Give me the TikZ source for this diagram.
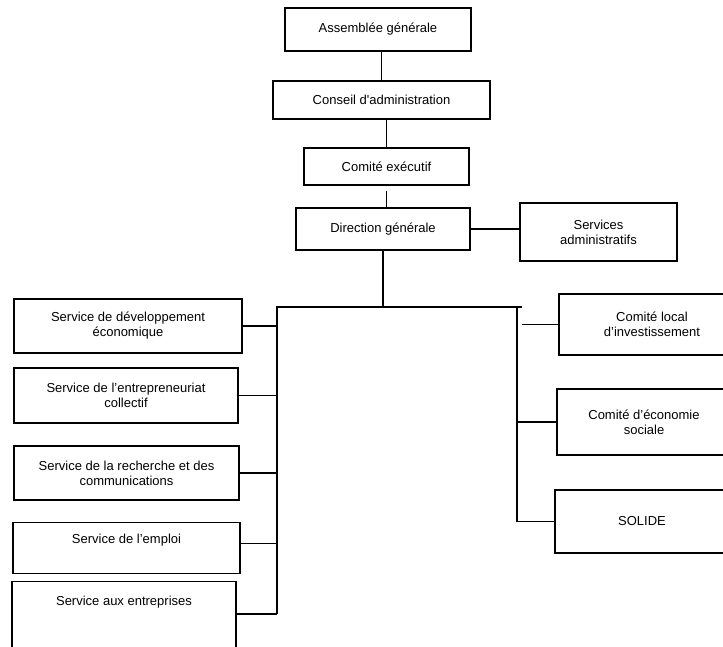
\documentclass[tikz,border=0pt]{standalone}
\usepackage{fontspec}
\setmainfont{Liberation Sans}
\begin{document}
\begin{tikzpicture}[x = 1pt, y = -1pt, line width = 1.4pt,
                      box/.style = {draw, rectangle, align = center, font = \fontsize{13}{15}\selectfont},
                      topbox/.style = {box, inner ysep = 0pt, anchor = north}]
    \useasboundingbox (0, 0) rectangle (723, 647);
    \clip (0, 0) rectangle (723, 647);

    \node [box, minimum width = 186pt, minimum height = 43pt] (ag) at (378, 29.5) {Assemblée générale};
    \node [box, minimum width = 217pt, minimum height = 38pt] (ca) at (381.5, 100) {Conseil d\textquotesingle administration};
    \node [box, minimum width = 165pt, minimum height = 37pt] (ce) at (386.5, 166.5) {Comité exécutif};
    \node [box, minimum width = 174pt, minimum height = 42pt] (dg) at (383, 229) {Direction générale};
    \node [box, minimum width = 157pt, minimum height = 58pt] (sa) at (598.5, 232) {Services\\administratifs};

    \node [box, minimum width = 228pt, minimum height = 54pt] (s1) at (128, 326) {Service de développement\\économique};
    \node [box, minimum width = 224pt, minimum height = 55pt] (s2) at (126, 395.5) {Service de l’entrepreneuriat\\collectif};
    \node [box, minimum width = 225pt, minimum height = 54pt] (s3) at (126.5, 473) {Service de la recherche et des\\communications};
    \node [topbox, minimum width = 227pt, text height = 21pt, text depth = 30pt] (s4) at (126.5, 522) {Service de l’emploi};
    \node [topbox, minimum width = 224pt, text height = 24pt, text depth = 80pt] (s5) at (124, 581) {Service aux entreprises};

    \node [box, minimum width = 186pt, minimum height = 61pt] (r1) at (652, 324.5) {Comité local\\d’investissement};
    \node [box, minimum width = 174pt, minimum height = 66pt] (r2) at (644, 422) {Comité d’économie\\sociale};
    \node [box, minimum width = 174pt, minimum height = 63pt] (r3) at (642, 521.5) {SOLIDE};

    \coordinate (lt) at (277, 307);
    \coordinate (lb) at (277, 614);
    \coordinate (rt) at (522, 307);
    \coordinate (rb) at (517, 522);

    \draw (ag.south -| ca.north) -- (ca.north);
    \draw (ce.north) -- (ce.north |- ca.south);
    \draw ([yshift = -5pt]ce.south) -- (ce.south |- dg.north);
    \draw (dg.east) -- (dg.east -| sa.west);
    \draw (dg.south) -- (dg.south |- lt);
    \draw (lb) -- (lt) -- (rt);
    \draw (rb) -- (rb |- rt);

    \draw (s1.east) -- (s1.east -| lt);
    \draw (s2.east) -- (s2.east -| lt);
    \draw (s3.east) -- (s3.east -| lt);
    \draw ([yshift = 5pt]s4.east) -- ([yshift = 5pt]s4.east -| lt);
    \draw ([yshift = -33pt]s5.north east) -- (lb);

    \draw ([xshift = 5pt]rb |- r1.west) -- (r1.west);
    \draw (rb |- r2.west) -- (r2.west);
    \draw (rb |- r3.west) -- (r3.west);
    \end{tikzpicture}
\end{document}
